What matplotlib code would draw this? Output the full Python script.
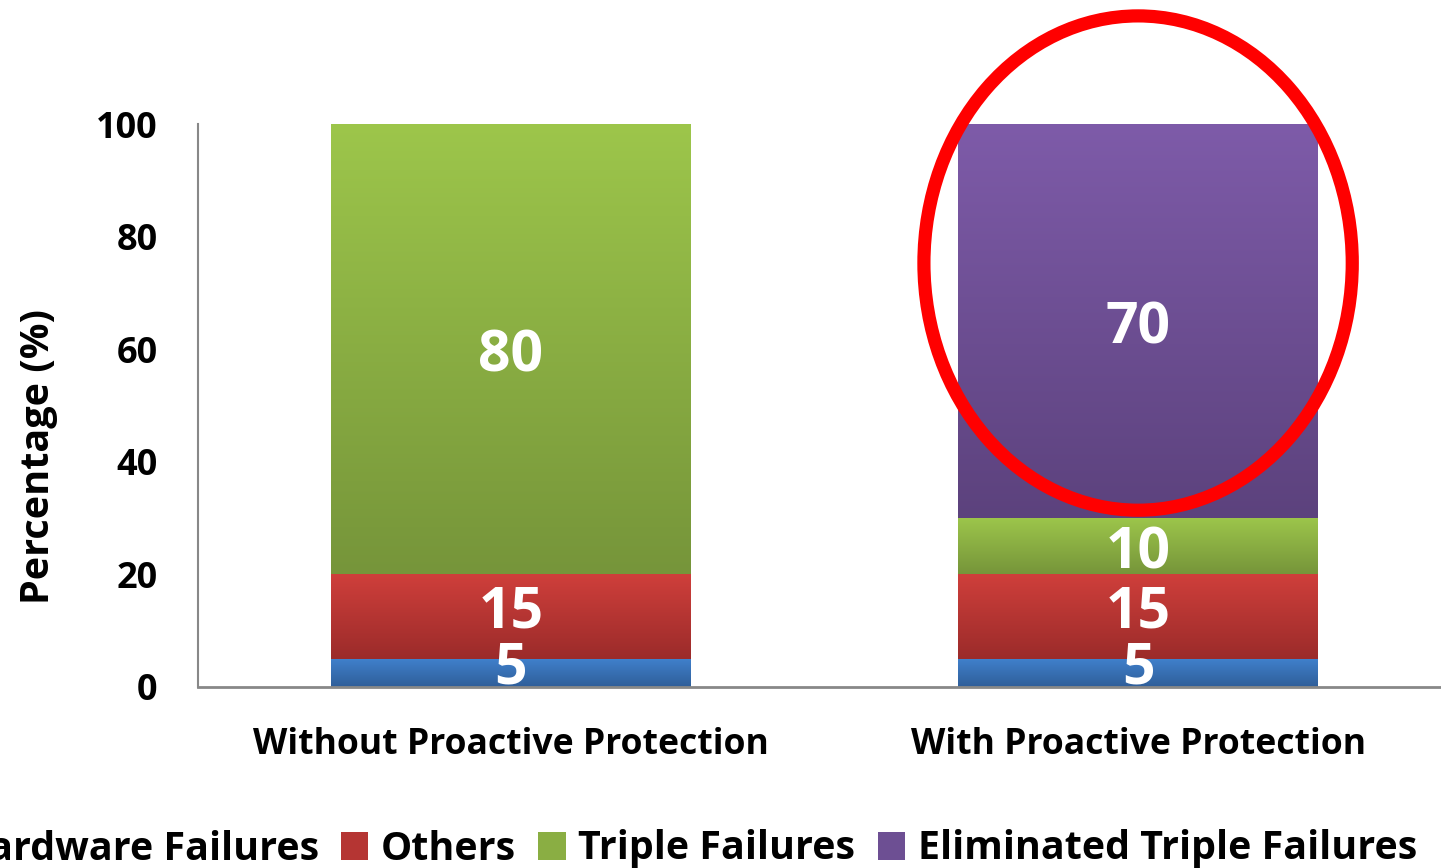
import numpy as np
import matplotlib
matplotlib.use('Agg')
import matplotlib.pyplot as plt
from matplotlib.patches import Ellipse, Patch
from matplotlib.colors import LinearSegmentedColormap

plt.rcParams['font.family'] = ['Open Sans', 'DejaVu Sans']
plt.rcParams['font.weight'] = 'bold'

categories = ['Without Proactive Protection', 'With Proactive Protection']
series = ['Hardware Failures', 'Others', 'Triple Failures', 'Eliminated Triple Failures']
values = {
    'Hardware Failures': [5, 5],
    'Others': [15, 15],
    'Triple Failures': [80, 10],
    'Eliminated Triple Failures': [0, 70],
}
# (top colour, bottom colour) of each gradient
shades = {
    'Hardware Failures': ('#4081CD', '#2F5E99'),
    'Others': ('#CF3F3B', '#9B2B2A'),
    'Triple Failures': ('#9DC64B', '#76953A'),
    'Eliminated Triple Failures': ('#7E5BA9', '#5C427D'),
}
yticks = [0, 20, 40, 60, 80, 100]

fig = plt.figure(figsize=(14.41, 8.68), dpi=100)
ax = fig.add_axes([198 / 1441, 1 - 687 / 868, 1 - 198 / 1441, (687 - 124) / 868])

x = np.arange(len(categories))
width = 0.574
bottom = np.zeros(len(categories))
for s in series:
    vals = np.array(values[s], dtype=float)
    top_c, bot_c = shades[s]
    cmap = LinearSegmentedColormap.from_list(s, [bot_c, top_c])
    grad = np.linspace(1, 0, 256).reshape(-1, 1)
    for i, v in enumerate(vals):
        if v <= 0:
            continue
        ax.imshow(grad, cmap=cmap, aspect='auto', vmin=0, vmax=1,
                  extent=[x[i] - width / 2, x[i] + width / 2, bottom[i], bottom[i] + v],
                  zorder=2, interpolation='bilinear')
        y = bottom[i] + v / 2
        if bottom[i] < 20:
            y += 2  # low labels sit a bit higher, like excel does
        ax.text(x[i], y, f'{v:g}', ha='center', va='center_baseline', color='white',
                fontsize=41, fontweight='bold', zorder=5)
    bottom += vals

ax.set_xlim(-0.499, 1.483)
ax.set_ylim(0, 100)
ax.set_yticks(yticks)
ax.set_xticks(x)
ax.set_xticklabels(categories, fontweight='bold')
ax.tick_params(axis='both', length=0)
ax.tick_params(axis='x', labelsize=25.6, pad=29)
ax.tick_params(axis='y', labelsize=26, pad=29)
ax.set_ylabel('Percentage (%)', fontsize=28.5, fontweight='bold')
ax.yaxis.set_label_coords(-0.1126, 0.409)

for sp in ['top', 'right']:
    ax.spines[sp].set_visible(False)
ax.spines['left'].set_color('#888888')
ax.spines['left'].set_linewidth(1.5)
ax.spines['bottom'].set_color('#888888')
ax.spines['bottom'].set_linewidth(2)

# highlight ring round the eliminated part
ring = Ellipse((1, 75.3), 0.683, 87.8, fill=False, edgecolor='#FF0000',
               linewidth=9.5, clip_on=False, zorder=6)
ax.add_patch(ring)

handles = []
for s in series:
    top_c, bot_c = shades[s]
    mid = LinearSegmentedColormap.from_list(s, [bot_c, top_c])(0.5)
    handles.append(Patch(facecolor=mid, edgecolor='none', label=s))
fig.legend(handles=handles, loc='center right', bbox_to_anchor=(1417 / 1441, 1 - 849 / 868),
           ncol=4, frameon=False, handlelength=0.7, handleheight=0.7,
           handletextpad=0.32, columnspacing=0.56, borderpad=0, borderaxespad=0,
           prop={'weight': 'bold', 'size': 28.4})

fig.savefig('out.png', dpi=100)
